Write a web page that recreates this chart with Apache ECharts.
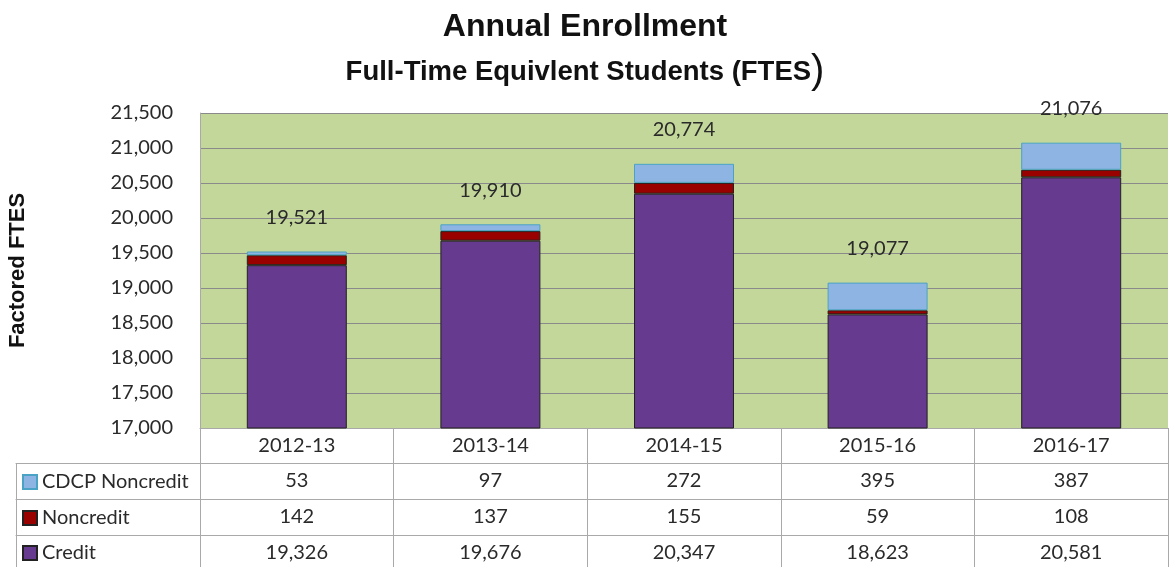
<!DOCTYPE html>
<html>
<head>
<meta charset="utf-8">
<script src="https://cdn.jsdelivr.net/npm/echarts@6/dist/echarts.min.js"></script>
<style>html,body{margin:0;padding:0;background:#fff}#c{width:1170px;height:567px}</style>
</head>
<body>
<div id="c"></div>
<script>
var categories = ['2012-13', '2013-14', '2014-15', '2015-16', '2016-17'];
var credit = [19326, 19676, 20347, 18623, 20581];
var noncredit = [142, 137, 155, 59, 108];
var cdcp = [53, 97, 272, 395, 387];
var totals = [19521, 19910, 20774, 19077, 21076];
var yTicks = { min: 17000, max: 21500, interval: 500 };

function fmt(v) { return v.toLocaleString('en-US'); }

var lineColor = '#a9a9a9';
var font = 'Lato, "Open Sans", sans-serif';
var textColor = '#2a2a2a';

var chart = echarts.init(document.getElementById('c'), null, { renderer: 'canvas' });

function tableAxis(offset, rowData, gridIndex, tickLen, showLabels) {
  return {
    type: 'category',
    gridIndex: gridIndex,
    position: 'bottom',
    offset: offset,
    data: gridIndex === 0 ? categories : [''],
    boundaryGap: true,
    axisLine: { show: true, onZero: false, lineStyle: { color: lineColor, width: 1 } },
    axisTick: { show: true, length: tickLen, inside: false, lineStyle: { color: lineColor, width: 1 } },
    axisLabel: {
      show: showLabels,
      interval: 0,
      margin: 8,
      color: textColor,
      fontFamily: font,
      fontSize: 20,
      formatter: function (v, i) { return rowData ? fmt(rowData[i]) : v; }
    },
    splitLine: { show: false }
  };
}

function legendRow(name, top) {
  return {
    orient: 'vertical',
    left: 22,
    top: top,
    padding: 0,
    itemWidth: 14,
    itemHeight: 14,
    itemGap: 0,
    selectedMode: false,
    icon: 'rect',
    data: [name],
    textStyle: { fontFamily: font, fontSize: 20, color: textColor }
  };
}

var option = {
  animation: false,
  backgroundColor: '#ffffff',
  title: [
    {
      text: 'Annual Enrollment',
      left: 'center',
      top: 6,
      textStyle: { fontFamily: '"Liberation Sans", Arial, sans-serif', fontWeight: 'bold', fontSize: 32, color: '#111' }
    },
    {
      text: 'Full-Time Equivlent Students (FTES{p|)}',
      left: 'center',
      top: 47,
      textStyle: {
        fontFamily: '"Liberation Sans", Arial, sans-serif', fontWeight: 'bold', fontSize: 27.5, color: '#111',
        rich: { p: { fontFamily: '"Liberation Sans", Arial, sans-serif', fontSize: 40, fontWeight: 'normal', color: '#111' } }
      }
    }
  ],
  legend: [
    legendRow('CDCP Noncredit', 472),
    legendRow('Noncredit', 508),
    legendRow('Credit', 543)
  ],
  grid: [
    { left: 200, right: 2, top: 113, bottom: 139, show: true, backgroundColor: '#c4d79b', borderWidth: 0, outerBoundsMode: 'none' },
    { left: 16, width: 184, top: 113, bottom: 139, show: false, outerBoundsMode: 'none' }
  ],
  xAxis: [
    tableAxis(0, null, 0, 35, true),
    tableAxis(35, cdcp, 0, 36, true),
    tableAxis(71, noncredit, 0, 36, true),
    tableAxis(107, credit, 0, 36, true),
    tableAxis(35, null, 1, 36, false),
    tableAxis(71, null, 1, 36, false),
    tableAxis(107, null, 1, 36, false)
  ],
  yAxis: [
    {
      type: 'value',
      gridIndex: 0,
      min: yTicks.min,
      max: yTicks.max,
      interval: yTicks.interval,
      name: 'Factored FTES',
      nameLocation: 'middle',
      nameRotate: 90,
      nameGap: 171,
      nameTextStyle: { fontFamily: '"Liberation Sans", Arial, sans-serif', fontWeight: 'bold', fontSize: 22, color: '#111' },
      axisLine: { show: true, lineStyle: { color: lineColor } },
      axisTick: { show: false },
      axisLabel: { margin: 27, color: textColor, fontFamily: font, fontSize: 20, formatter: function (v) { return fmt(v); } },
      splitLine: { show: true, lineStyle: { color: '#8a8a8a', width: 1 } }
    },
    { type: 'value', gridIndex: 1, show: false, min: 0, max: 1 }
  ],
  series: [
    {
      name: 'Credit', type: 'bar', stack: 'fte', xAxisIndex: 0, yAxisIndex: 0, barWidth: 100,
      data: credit,
      itemStyle: { color: '#663a8e', borderColor: '#222222', borderWidth: 1 }
    },
    {
      name: 'Noncredit', type: 'bar', stack: 'fte', xAxisIndex: 0, yAxisIndex: 0, barWidth: 100,
      data: noncredit,
      itemStyle: { color: '#990000', borderColor: '#222222', borderWidth: 1 }
    },
    {
      name: 'CDCP Noncredit', type: 'bar', stack: 'fte', xAxisIndex: 0, yAxisIndex: 0, barWidth: 100,
      data: cdcp,
      itemStyle: { color: '#8db4e2', borderColor: '#4aa3c4', borderWidth: 1 },
      label: {
        show: true, position: 'top', distance: 24,
        color: textColor, fontFamily: font, fontSize: 20,
        formatter: function (p) { return fmt(totals[p.dataIndex]); }
      }
    }
  ]
};
chart.setOption(option);
</script>
</body>
</html>
